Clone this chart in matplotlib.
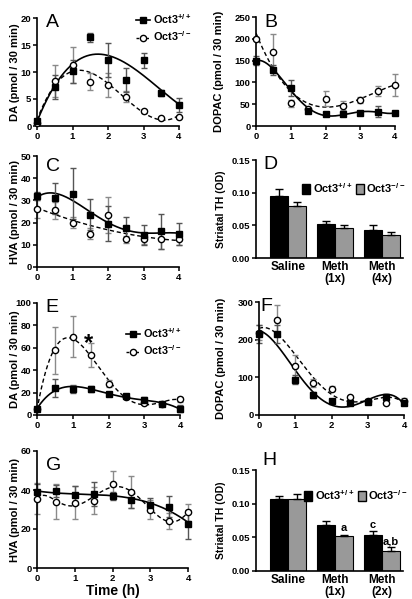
import numpy as np
import matplotlib
matplotlib.use("Agg")
import matplotlib.pyplot as plt
from matplotlib.lines import Line2D
from matplotlib.patches import Patch

plt.rcParams['font.family'] = ['Liberation Sans', 'DejaVu Sans']
plt.rcParams['font.weight'] = 'bold'
plt.rcParams['mathtext.default'] = 'regular'

# ---- data ----
t = [0, 0.5, 1, 1.5, 2, 2.5, 3, 3.5, 4]
wt_lbl = 'Oct3$^{+/+}$'
ko_lbl = 'Oct3$^{-/-}$'

# A: DA
a_wt = [1.0, 7.2, 10.1, 16.4, 12.2, 8.5, 12.2, 6.1, 3.9]
a_wt_err = [0.3, 2.2, 2.2, 0.8, 3.1, 2.2, 1.4, 0.5, 1.3]
a_ko = [0.5, 8.3, 11.3, 8.2, 7.6, 5.4, 2.7, 1.5, 1.7]
a_ko_err = [0.3, 3.0, 3.4, 1.6, 2.2, 1.0, 0.3, 0.2, 0.2]

# B: DOPAC
b_wt = [150, 128, 87, 35, 27, 27, 30, 33, 30]
b_wt_err = [10, 12, 18, 4, 5, 4, 5, 12, 3]
b_ko = [200, 170, 52, 38, 63, 47, 60, 80, 94]
b_ko_err = [3, 42, 8, 4, 17, 10, 7, 12, 26]

# C: HVA
c_wt = [32, 31, 33, 23.5, 19.5, 17.5, 14.5, 16, 15]
c_wt_err = [2, 7, 11.5, 7, 8, 5, 4.5, 8, 5]
c_ko = [26, 25.5, 20, 15, 23.5, 12.5, 12.5, 12.5, 12.5]
c_ko_err = [4, 4, 2.5, 2.5, 8, 1.5, 2, 4.5, 2.5]

# D: TH bars
d_groups = ['Saline', 'Meth\n(1x)', 'Meth\n(4x)']
d_wt = [0.095, 0.052, 0.043]
d_wt_err = [0.010, 0.005, 0.008]
d_ko = [0.080, 0.046, 0.035]
d_ko_err = [0.005, 0.004, 0.005]

# E: DA
e_wt = [5, 24, 23.5, 23, 19, 17, 13, 10, 5.5]
e_wt_err = [1, 8, 3.5, 2.5, 1, 1, 3, 1.5, 3]
e_ko = [5, 58, 70, 53.5, 28, 16, 11, 10, 14]
e_ko_err = [1, 21, 18, 11, 3, 1, 1.5, 1, 2]

# F: DOPAC
f_wt = [215, 215, 93, 52, 38, 33, 35, 48, 32]
f_wt_err = [25, 25, 12, 8, 4, 4, 4, 5, 5]
f_ko = [218, 253, 130, 85, 70, 47, 38, 33, 38]
f_ko_err = [20, 38, 30, 10, 7, 4, 4, 4, 6]

# G: HVA
g_wt = [39, 39.5, 37.5, 38, 37, 35, 32.5, 31.5, 22.5]
g_wt_err = [4, 3, 4.5, 6, 2, 4, 3.5, 5.5, 7.5]
g_ko = [35.5, 34, 33.5, 34.5, 43, 39, 30, 24, 28.5]
g_ko_err = [8, 9, 8.5, 7, 6.5, 8, 5, 4, 4.5]

# H: TH bars
h_groups = ['Saline', 'Meth\n(1x)', 'Meth\n(2x)']
h_wt = [0.107, 0.069, 0.054]
h_wt_err = [0.005, 0.005, 0.005]
h_ko = [0.107, 0.052, 0.030]
h_ko_err = [0.007, 0.002, 0.005]

W, H = 412, 599
fig = plt.figure(figsize=(W / 100, H / 100), dpi=100)


def make_ax(l, r, top, bot):
    return fig.add_axes([l / W, 1 - bot / H, (r - l) / W, (bot - top) / H])


def style(ax, ylabel, label_x, l, r):
    for s in ['top', 'right']:
        ax.spines[s].set_visible(False)
    for s in ['left', 'bottom']:
        ax.spines[s].set_linewidth(1.2)
    ax.tick_params(direction='out', length=3, width=1.1, labelsize=6.8, pad=1)
    for lab in ax.get_xticklabels() + ax.get_yticklabels():
        lab.set_fontweight('bold')
    ax.set_ylabel(ylabel, fontsize=8, fontweight='bold')
    ax.yaxis.set_label_coords((label_x - l) / (r - l), 0.5)


def time_panel(box, wt, wt_err, ko, ko_err, deg_wt, deg_ko, ylim, yticks,
               ylabel, label_x, letter, letter_xy):
    l, r, top, bot = box
    ax = make_ax(l, r, top, bot)
    tt = np.array(t)
    xs = np.linspace(0, 4, 200)
    ax.plot(xs, np.polyval(np.polyfit(tt, wt, deg_wt), xs), color='black', lw=1.2)
    ax.plot(xs, np.polyval(np.polyfit(tt, ko, deg_ko), xs), color='black', lw=1.0,
            ls=(0, (3, 2)))
    ax.errorbar(t, ko, yerr=ko_err, fmt='none', ecolor='#8a8a8a', elinewidth=1,
                capsize=2.5, capthick=1, clip_on=False)
    ax.errorbar(t, wt, yerr=wt_err, fmt='none', ecolor='#555555', elinewidth=1,
                capsize=2.5, capthick=1, clip_on=False)
    ax.plot(t, ko, 'o', ms=4.5, mfc='white', mec='black', mew=1, clip_on=False, zorder=4)
    ax.plot(t, wt, 's', ms=4.5, color='black', clip_on=False, zorder=5)
    ax.set_xlim(0, 4)
    ax.set_ylim(*ylim)
    ax.set_xticks([0, 1, 2, 3, 4])
    ax.set_yticks(yticks)
    style(ax, ylabel, label_x, l, r)
    ax.text((letter_xy[0] - l) / (r - l), (bot - letter_xy[1]) / (bot - top), letter,
            transform=ax.transAxes, fontsize=14, fontweight='normal', va='top', ha='left')
    return ax


def line_legend(ax, box, x_px, y_px):
    l, r, top, bot = box
    handles = [Line2D([], [], color='black', marker='s', ms=4.5, lw=1.2),
               Line2D([], [], color='black', marker='o', ms=4.5, mfc='white', lw=1.0,
                      ls=(0, (2, 1.5)))]
    ax.legend(handles, [wt_lbl, ko_lbl], loc='upper left',
              bbox_to_anchor=((x_px - l) / (r - l), (bot - y_px) / (bot - top)),
              frameon=False, borderaxespad=0, borderpad=0, handlelength=1.3,
              handletextpad=0.3, labelspacing=0.35,
              prop={'weight': 'bold', 'size': 7.8})


def bar_panel(box, groups, wt, wt_err, ko, ko_err, letter, letter_xy, leg_xy, notes):
    l, r, top, bot = box
    ax = make_ax(l, r, top, bot)
    x = np.arange(len(groups))
    w = 0.38
    ax.bar(x - w / 2, wt, w, color='black', edgecolor='black', lw=0.8)
    ax.bar(x + w / 2, ko, w, color='#999999', edgecolor='black', lw=0.8)
    ax.errorbar(x - w / 2, wt, yerr=[np.zeros(3), wt_err], fmt='none', ecolor='black',
                elinewidth=1, capsize=3, capthick=1)
    ax.errorbar(x + w / 2, ko, yerr=[np.zeros(3), ko_err], fmt='none', ecolor='black',
                elinewidth=1, capsize=3, capthick=1)
    ax.set_xlim(-0.68, 2.45)
    ax.set_ylim(0, 0.15)
    ax.set_yticks([0, 0.05, 0.10, 0.15])
    ax.set_yticklabels(['0.00', '0.05', '0.10', '0.15'])
    ax.set_xticks(x)
    ax.set_xticklabels(groups)
    style(ax, 'Striatal TH (OD)', 226, l, r)
    ax.tick_params(axis='x', length=0, labelsize=8.5, pad=2)
    ax.yaxis.label.set_fontsize(7.5)
    for lab in ax.get_xticklabels():
        lab.set_fontweight('bold')
        lab.set_linespacing(1.0)
    ax.text((letter_xy[0] - l) / (r - l), (bot - letter_xy[1]) / (bot - top), letter,
            transform=ax.transAxes, fontsize=14, fontweight='normal', va='top', ha='left',
            clip_on=False)
    handles = [Patch(facecolor='black', edgecolor='black'),
               Patch(facecolor='#999999', edgecolor='black')]
    ax.legend(handles, [wt_lbl, ko_lbl], loc='upper left', ncol=2,
              bbox_to_anchor=((leg_xy[0] - l) / (r - l), (bot - leg_xy[1]) / (bot - top)),
              frameon=False, borderaxespad=0, borderpad=0, handlelength=0.75,
              handleheight=1.0, handletextpad=0.2, columnspacing=0.35,
              prop={'weight': 'bold', 'size': 8})
    for xi, yi, s in notes:
        ax.text(xi, yi, s, ha='center', va='bottom', fontsize=8, fontweight='bold')
    return ax


# A
boxA = (37, 179, 18, 126)
axA = time_panel(boxA, a_wt, a_wt_err, a_ko, a_ko_err, 3, 3, (0, 20), [0, 5, 10, 15, 20],
                 'DA (pmol / 30 min)', 20, 'A', (46, 14))
line_legend(axA, boxA, 136, 12)

# B
boxB = (256, 395, 17, 126)
time_panel(boxB, b_wt, b_wt_err, b_ko, b_ko_err, 6, 3, (0, 250), [0, 50, 100, 150, 200, 250],
           'DOPAC (pmol / 30 min)', 224, 'B', (264, 14))

# C
boxC = (37, 179, 156, 267)
time_panel(boxC, c_wt, c_wt_err, c_ko, c_ko_err, 4, 2, (0, 50), [0, 10, 20, 30, 40, 50],
           'HVA (pmol / 30 min)', 20, 'C', (46, 158))

# D
boxD = (256, 403, 160, 258)
bar_panel(boxD, d_groups, d_wt, d_wt_err, d_ko, d_ko_err, 'D', (263, 156), (302, 181), [])

# E
boxE = (37, 180, 303, 415)
axE = time_panel(boxE, e_wt, e_wt_err, e_ko, e_ko_err, 4, 5, (0, 100),
                 [0, 20, 40, 60, 80, 100], 'DA (pmol / 30 min)', 20, 'E', (45, 299))
line_legend(axE, boxE, 126, 326)
axE.text(1.45, 64, '*', fontsize=17, fontweight='bold', ha='center', va='center')

# F
boxF = (259, 404, 302, 415)
time_panel(boxF, f_wt, f_wt_err, f_ko, f_ko_err, 4, 4, (0, 300), [0, 100, 200, 300],
           'DOPAC (pmol / 30 min)', 226, 'F', (260, 298))

# G
boxG = (37, 188, 451, 568)
axG = time_panel(boxG, g_wt, g_wt_err, g_ko, g_ko_err, 3, 6, (0, 60), [0, 20, 40, 60],
                 'HVA (pmol / 30 min)', 20, 'G', (46, 457))
axG.set_xlabel('Time (h)', fontsize=10, fontweight='bold', labelpad=1)

# H
boxH = (256, 403, 470, 571)
bar_panel(boxH, h_groups, h_wt, h_wt_err, h_ko, h_ko_err, 'H', (262, 452), (304, 488),
          [(1.19, 0.056, 'a'), (1.81, 0.061, 'c'), (2.19, 0.037, 'a,b')])

fig.savefig('out.png', dpi=100)
